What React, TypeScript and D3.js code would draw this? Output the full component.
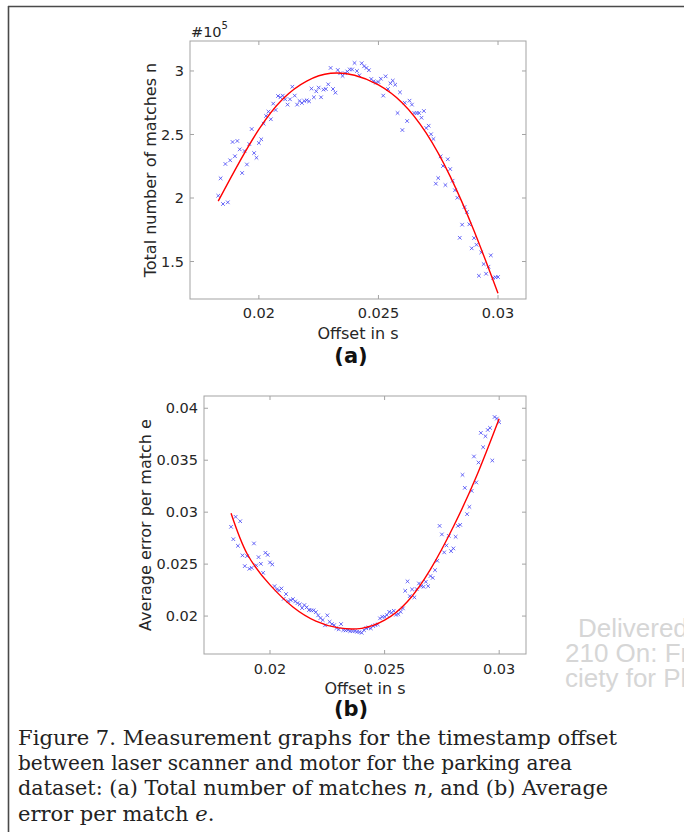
import React from 'react';
import * as d3 from 'd3';

// tested timestamp offsets (s)
const offsets = [
  0.0183, 0.0184, 0.0185, 0.0186, 0.0187, 0.0188, 0.0189, 0.019, 0.0191, 0.0192,
  0.0193, 0.0194, 0.0195, 0.0196, 0.0197, 0.0198, 0.0199, 0.02, 0.0201, 0.0202,
  0.0203, 0.0204, 0.0205, 0.0206, 0.0207, 0.0208, 0.0209, 0.021, 0.0211, 0.0212,
  0.0213, 0.0214, 0.0215, 0.0216, 0.0217, 0.0218, 0.0219, 0.022, 0.0221, 0.0222,
  0.0223, 0.0224, 0.0225, 0.0226, 0.0227, 0.0228, 0.0229, 0.023, 0.0231, 0.0232,
  0.0233, 0.0234, 0.0235, 0.0236, 0.0237, 0.0238, 0.0239, 0.024, 0.0241, 0.0242,
  0.0243, 0.0244, 0.0245, 0.0246, 0.0247, 0.0248, 0.0249, 0.025, 0.0251, 0.0252,
  0.0253, 0.0254, 0.0255, 0.0256, 0.0257, 0.0258, 0.0259, 0.026, 0.0261, 0.0262,
  0.0263, 0.0264, 0.0265, 0.0266, 0.0267, 0.0268, 0.0269, 0.027, 0.0271, 0.0272,
  0.0273, 0.0274, 0.0275, 0.0276, 0.0277, 0.0278, 0.0279, 0.028, 0.0281, 0.0282,
  0.0283, 0.0284, 0.0285, 0.0286, 0.0287, 0.0288, 0.0289, 0.029, 0.0291, 0.0292,
  0.0293, 0.0294, 0.0295, 0.0296, 0.0297, 0.0298, 0.0299, 0.03,
];

// (a) total number of matches, x 10^5
const matches = [
  2.018, 2.155, 1.953, 2.268, 1.966, 2.297, 2.441, 2.329, 2.449, 2.383,
  2.197, 2.37, 2.264, 2.425, 2.543, 2.354, 2.317, 2.433, 2.462, 2.585,
  2.646, 2.68, 2.62, 2.743, 2.693, 2.803, 2.793, 2.806, 2.777, 2.735,
  2.777, 2.876, 2.806, 2.735, 2.764, 2.748, 2.764, 2.769, 2.761, 2.861,
  2.793, 2.84, 2.869, 2.793, 2.853, 2.858, 2.895, 3.024, 2.858, 2.829,
  3.008, 2.982, 2.961, 2.982, 2.996, 3.012, 3.012, 3.063, 3.0, 2.966,
  3.061, 3.037, 3.024, 3.006, 2.937, 2.919, 2.908, 2.913, 2.939, 2.806,
  2.958, 2.858, 2.903, 2.924, 2.892, 2.669, 2.832, 2.535, 2.75, 2.606,
  2.766, 2.735, 2.669, 2.669, 2.669, 2.632, 2.685, 2.551, 2.569, 2.502,
  2.465, 2.113, 2.157, 2.328, 2.252, 2.102, 2.305, 2.228, 2.136, 2.061,
  2.002, 1.687, 1.79, 1.929, 1.89, 1.793, 1.604, 1.685, 1.632, 1.388,
  1.572, 1.48, 1.404, 1.459, 1.549, 1.372, 1.376, 1.378,
];

// (b) average error per match
const errors = [
  0.02859, 0.0274, 0.02955, 0.02676, 0.02913, 0.02584, 0.02481, 0.02577, 0.02455, 0.02464,
  0.02699, 0.02488, 0.02567, 0.02503, 0.02416, 0.02609, 0.02589, 0.02516, 0.02497, 0.02288,
  0.02257, 0.02247, 0.02266, 0.02166, 0.02212, 0.02144, 0.02154, 0.02163, 0.02141, 0.02125,
  0.02113, 0.02077, 0.02106, 0.02084, 0.02058, 0.02055, 0.02055, 0.02038, 0.02007, 0.01981,
  0.01962, 0.01911, 0.02007, 0.01945, 0.01923, 0.01913, 0.01885, 0.01872, 0.01923, 0.01865,
  0.01862, 0.01865, 0.01856, 0.01856, 0.01856, 0.01849, 0.01846, 0.01839, 0.01865, 0.01882,
  0.01891, 0.01882, 0.01904, 0.01913, 0.0192, 0.01978, 0.01993, 0.01993, 0.0201, 0.02041,
  0.02032, 0.02051, 0.02013, 0.02019, 0.02041, 0.02074, 0.02243, 0.02334, 0.02192, 0.02257,
  0.0218, 0.0226, 0.02314, 0.02288, 0.02282, 0.0233, 0.02288, 0.02385, 0.02368, 0.02442,
  0.02532, 0.02868, 0.02786, 0.02613, 0.0268, 0.02772, 0.02625, 0.02651, 0.02763, 0.02868,
  0.02878, 0.03359, 0.03234, 0.02981, 0.03051, 0.03205, 0.03536, 0.03286, 0.03478, 0.03763,
  0.03625, 0.03731, 0.03791, 0.03811, 0.03497, 0.03916, 0.03901, 0.03865,
];

// fitted curves
const fitOffsets = [0.0183, 0.019, 0.02, 0.021, 0.022, 0.023, 0.024, 0.025, 0.026, 0.027, 0.028, 0.029, 0.03];
const matchesFit = [1.975, 2.22, 2.54, 2.78, 2.921, 2.982, 2.966, 2.89, 2.748, 2.51, 2.17, 1.74, 1.25];
const errorsFit = [0.0299, 0.026, 0.023, 0.02088, 0.01952, 0.01886, 0.01882, 0.0196, 0.0214, 0.0245, 0.0286, 0.0334, 0.039];

const offsetTicks = [0.02, 0.025, 0.03];
const matchTicks = [1.5, 2, 2.5, 3];
const errorTicks = [0.02, 0.025, 0.03, 0.035, 0.04];

const caption = [
  [{ t: 'Figure 7. Measurement graphs for the timestamp offset' }],
  [{ t: 'between laser scanner and motor for the parking area' }],
  [{ t: 'dataset: (a) Total number of matches ' }, { t: 'n', i: true }, { t: ', and (b) Average' }],
  [{ t: 'error per match ' }, { t: 'e', i: true }, { t: '.' }],
];
const captionWidths = [599, 554, 590, null];
const watermark = ['Delivered', '210 On: Fr', 'ciety for Pl'];

const width = 684,
  height = 832;
const axisColor = '#a3a3a3';
const textColor = '#262626';
const sans = 'DejaVu Sans, sans-serif';
const xDomain = [0.01712, 0.03117];

function Panel({ left, right, top, bottom, yDomain, yTicks, values, fit, yLabel, yLabelX, xLabelY, tickY, letter, letterY, exponent }) {
  const x = d3.scaleLinear().domain(xDomain).range([left, right]);
  const y = d3.scaleLinear().domain(yDomain).range([bottom, top]);
  const line = d3
    .line<number>()
    .x((d, i) => x(fitOffsets[i]))
    .y((d) => y(d))
    .curve(d3.curveNatural);
  const tk = 4;
  const s = 1.8;

  return (
    <g>
      <rect x={left} y={top} width={right - left} height={bottom - top} fill='#fff' stroke={axisColor} strokeWidth={1} />
      {offsetTicks.map((t) => (
        <g key={'x' + t}>
          <line x1={x(t)} x2={x(t)} y1={bottom} y2={bottom - tk} stroke={axisColor} />
          <line x1={x(t)} x2={x(t)} y1={top} y2={top + tk} stroke={axisColor} />
          <text x={x(t)} y={tickY} textAnchor='middle' fontFamily={sans} fontSize={14.5} fill={textColor}>
            {String(t)}
          </text>
        </g>
      ))}
      {yTicks.map((t) => (
        <g key={'y' + t}>
          <line x1={left} x2={left + tk} y1={y(t)} y2={y(t)} stroke={axisColor} />
          <line x1={right} x2={right - tk} y1={y(t)} y2={y(t)} stroke={axisColor} />
          <text x={left - 6} y={y(t)} dy='0.36em' textAnchor='end' fontFamily={sans} fontSize={14.5} fill={textColor}>
            {String(t)}
          </text>
        </g>
      ))}
      <g stroke='#4343f5' strokeWidth={0.8} fill='none'>
        {values.map((v, i) => {
          const cx = x(offsets[i]);
          const cy = y(v);
          return <path key={i} d={`M${cx - s},${cy - s}L${cx + s},${cy + s}M${cx - s},${cy + s}L${cx + s},${cy - s}`} />;
        })}
      </g>
      <path d={line(fit)} fill='none' stroke='#ff0000' strokeWidth={1.4} />
      {exponent && (
        <text x={left + 1} y={top - 4} fontFamily={sans} fontSize={14.5} fill={textColor}>
          #10
          <tspan dy={-8} fontSize={10}>
            {exponent}
          </tspan>
        </text>
      )}
      <text
        transform={`translate(${yLabelX},${(top + bottom) / 2}) rotate(-90)`}
        textAnchor='middle'
        dy='0.36em'
        fontFamily={sans}
        fontSize={16}
        fill={textColor}
      >
        {yLabel}
      </text>
      <text x={(left + right) / 2} y={xLabelY} textAnchor='middle' fontFamily={sans} fontSize={16} fill={textColor}>
        Offset in s
      </text>
      <text x={351} y={letterY} textAnchor='middle' fontFamily={sans} fontWeight='bold' fontSize={21} fill='#111'>
        {letter}
      </text>
    </g>
  );
}

export default function App() {
  return (
    <svg
      width={width}
      height={height}
      viewBox={`0 0 ${width} ${height}`}
      style={{ position: 'absolute', left: 0, top: 0, background: '#fff' }}
    >
      <rect width={width} height={height} fill='#fff' />
      <line x1={8.5} x2={8.5} y1={6} y2={height} stroke='#4a4a4a' strokeWidth={1.6} />
      <line x1={8} x2={width} y1={6.5} y2={6.5} stroke='#4a4a4a' strokeWidth={1.4} />

      {watermark.map((t, i) => (
        <text key={t} x={i === 0 ? 578 : 565} y={637 + i * 25} fontFamily='Liberation Sans, Arial, sans-serif' fontSize={26} fill='#d6d6d6'>
          {t}
        </text>
      ))}

      <Panel
        left={190}
        right={526}
        top={41}
        bottom={299}
        yDomain={[1.205, 3.236]}
        yTicks={matchTicks}
        values={matches}
        fit={matchesFit}
        yLabel='Total number of matches n'
        yLabelX={150}
        xLabelY={339}
        tickY={318}
        letter='(a)'
        letterY={363}
        exponent='5'
      />
      <Panel
        left={204}
        right={526}
        top={396}
        bottom={654}
        yDomain={[0.01635, 0.04118]}
        yTicks={errorTicks}
        values={errors}
        fit={errorsFit}
        yLabel='Average error per match e'
        yLabelX={145}
        xLabelY={694}
        tickY={674}
        letter='(b)'
        letterY={716}
      />

      {caption.map((segs, i) => (
        <text
          key={i}
          x={18}
          y={745 + i * 25.2}
          textLength={captionWidths[i] ?? undefined}
          lengthAdjust={captionWidths[i] ? 'spacingAndGlyphs' : undefined}
          fontFamily='DejaVu Serif, serif'
          fontSize={21}
          fill='#222'
        >
          {segs.map((s, j) => (
            <tspan key={j} fontStyle={s.i ? 'italic' : 'normal'}>
              {s.t}
            </tspan>
          ))}
        </text>
      ))}
    </svg>
  );
}
